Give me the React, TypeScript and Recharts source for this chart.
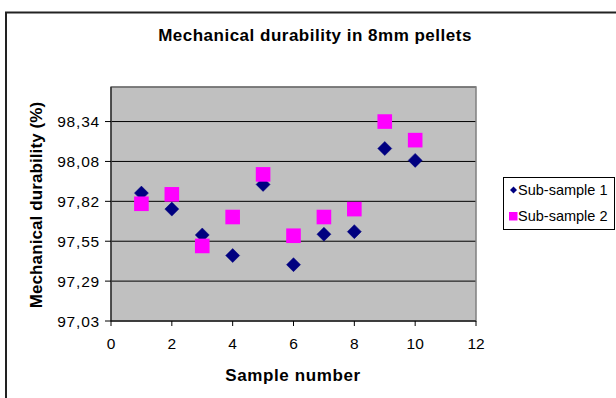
import React from 'react';
import { ScatterChart, Scatter, XAxis, YAxis, CartesianGrid, Legend, ReferenceArea } from 'recharts';

const titleText = 'Mechanical durability in 8mm pellets';
const xTitle = 'Sample number';
const yTitle = 'Mechanical durability (%)';
const seriesNames = ['Sub-sample 1', 'Sub-sample 2'];

const sampleNumbers = [1, 2, 3, 4, 5, 6, 7, 8, 9, 10];
const subSample1 = [97.87, 97.765, 97.595, 97.46, 97.927, 97.4, 97.6, 97.617, 98.163, 98.085];
const subSample2 = [97.8, 97.862, 97.523, 97.713, 97.993, 97.59, 97.713, 97.765, 98.34, 98.218];

const xTicks = [0, 2, 4, 6, 8, 10, 12];
const yTicks = [97.03, 97.292, 97.554, 97.816, 98.078, 98.34];
const yDomain = [97.03, 98.567];

const data1 = sampleNumbers.map((x, i) => ({ x, y: subSample1[i] }));
const data2 = sampleNumbers.map((x, i) => ({ x, y: subSample2[i] }));

const FONT = 'Arial, "Liberation Sans", sans-serif';
const NAVY = '#000080';
const MAGENTA = '#FF00FF';

const Diamond = (props: any) => {
  const { cx, cy } = props;
  if (cx == null || cy == null) return null;
  const r = 7;
  return (
    <polygon
      points={`${cx},${cy - r} ${cx + r},${cy} ${cx},${cy + r} ${cx - r},${cy}`}
      fill={NAVY}
      stroke={NAVY}
      strokeWidth={0.5}
    />
  );
};

const Square = (props: any) => {
  const { cx, cy } = props;
  if (cx == null || cy == null) return null;
  const h = 7.3;
  return <rect x={cx - h} y={cy - h} width={h * 2} height={h * 2} fill={MAGENTA} />;
};

const LegendBox = () => (
  <div
    style={{
      width: 112,
      height: 53,
      border: '1px solid #000',
      background: '#fff',
      boxSizing: 'border-box',
    }}
  >
    <svg width={110} height={51} style={{ display: 'block' }}>
      <polygon points="9.5,8.5 13,12 9.5,15.5 6,12" fill={NAVY} />
      <text x={14} y={17} fontSize={14.5} fontFamily={FONT} fill="#000">
        {seriesNames[0]}
      </text>
      <rect x={5} y={34} width={8.5} height={8.5} fill={MAGENTA} />
      <text x={14} y={43} fontSize={14.5} fontFamily={FONT} fill="#000">
        {seriesNames[1]}
      </text>
    </svg>
  </div>
);

export default function App() {
  return (
    <div style={{ position: 'fixed', left: 0, top: 0, width: 616, height: 398, background: '#fff' }}>
      <ScatterChart width={616} height={398} margin={{ top: 87, right: 140, bottom: 0, left: 0 }}>
        <CartesianGrid fill="#C0C0C0" vertical={false} stroke="#000" strokeOpacity={1} />
        <XAxis
          type="number"
          dataKey="x"
          domain={[0, 12]}
          ticks={xTicks}
          allowDataOverflow
          height={77}
          tickSize={5}
          tickMargin={12}
          axisLine={{ stroke: '#000' }}
          tickLine={{ stroke: '#000' }}
          tick={{ fill: '#000', fontSize: 15.5, fontFamily: FONT }}
        />
        <YAxis
          type="number"
          dataKey="y"
          domain={yDomain}
          ticks={yTicks}
          allowDataOverflow
          width={111}
          tickSize={6}
          tickMargin={5}
          axisLine={{ stroke: '#000' }}
          tickLine={{ stroke: '#000' }}
          tickFormatter={(v: number) => v.toFixed(2).replace('.', ',')}
          tick={{ fill: '#000', fontSize: 15.5, fontFamily: FONT, letterSpacing: 0.8 }}
        />
        <ReferenceArea x1={0} x2={12} y1={yDomain[0]} y2={yDomain[1]} fill="none" stroke="#808080" strokeWidth={1.5} />
        <Scatter name={seriesNames[0]} data={data1} shape={Diamond} isAnimationActive={false} />
        <Scatter name={seriesNames[1]} data={data2} shape={Square} isAnimationActive={false} />
        <Legend
          layout="vertical"
          align="center"
          verticalAlign="middle"
          content={() => <LegendBox />}
          wrapperStyle={{ left: 503, top: 177, width: 112, height: 53 }}
        />
      </ScatterChart>
      <svg
        width={616}
        height={398}
        style={{ position: 'absolute', left: 0, top: 0, pointerEvents: 'none' }}
      >
        <rect x={6} y={12.5} width={700} height={500} fill="none" stroke="#222" strokeWidth={2} />
        <text x={315} y={41} textAnchor="middle" fontFamily={FONT} fontWeight="bold" fontSize={17} letterSpacing={0.5} fill="#000">
          {titleText}
        </text>
        <text
          x={36}
          y={205}
          textAnchor="middle"
          dominantBaseline="central"
          transform="rotate(-90, 36, 205)"
          fontFamily={FONT}
          fontWeight="bold"
          fontSize={17}
          letterSpacing={0.1}
          fill="#000"
        >
          {yTitle}
        </text>
        <text x={293} y={381} textAnchor="middle" fontFamily={FONT} fontWeight="bold" fontSize={17} letterSpacing={0.6} fill="#000">
          {xTitle}
        </text>
      </svg>
    </div>
  );
}
